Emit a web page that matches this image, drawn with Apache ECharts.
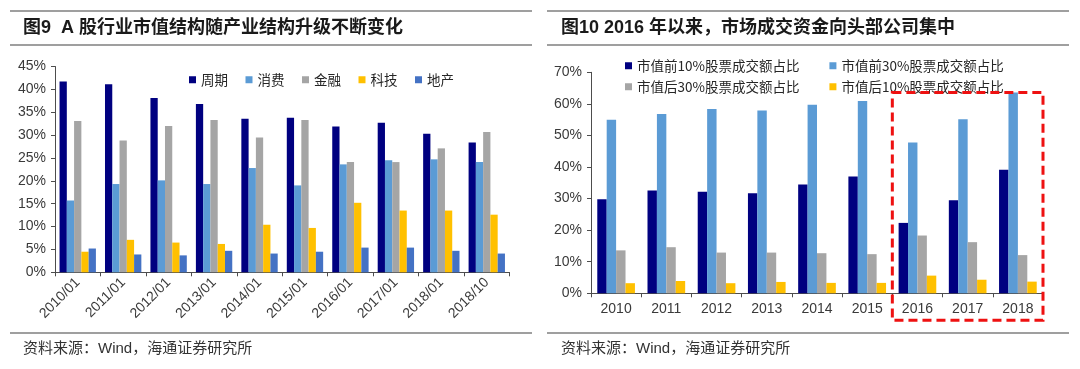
<!DOCTYPE html>
<html>
<head>
<meta charset="utf-8">
<script src="https://cdn.jsdelivr.net/npm/echarts@6/dist/echarts.min.js"></script>
<style>
html,body{margin:0;padding:0;background:#fff;}
#c{width:1080px;height:369px;}
</style>
</head>
<body>
<div id="c"></div>
<script>
// ---- Left chart data (图9) ----
const leftTitle = '图9  A 股行业市值结构随产业结构升级不断变化';
const leftCategories = ['2010/01','2011/01','2012/01','2013/01','2014/01','2015/01','2016/01','2017/01','2018/01','2018/10'];
const leftNames = ['周期','消费','金融','科技','地产'];
const cycle    = [41.7, 41.1, 38.1, 36.8, 33.6, 33.8, 31.9, 32.7, 30.3, 28.4];
const consumer = [15.7, 19.3, 20.1, 19.3, 22.8, 19.0, 23.6, 24.5, 24.7, 24.1];
const finance  = [33.1, 28.8, 32.0, 33.3, 29.5, 33.3, 24.1, 24.1, 27.1, 30.7];
const tech     = [4.5, 7.1, 6.5, 6.2, 10.4, 9.7, 15.2, 13.5, 13.5, 12.6];
const realty   = [5.2, 3.9, 3.7, 4.7, 4.1, 4.5, 5.4, 5.4, 4.7, 4.1];
const leftYMax = 45, leftYStep = 5;

// ---- Right chart data (图10) ----
const rightTitle = '图10 2016 年以来，市场成交资金向头部公司集中';
const rightCategories = ['2010','2011','2012','2013','2014','2015','2016','2017','2018'];
const rightNames = ['市值前10%股票成交额占比','市值前30%股票成交额占比','市值后30%股票成交额占比','市值后10%股票成交额占比'];
const top10    = [29.8, 32.6, 32.2, 31.7, 34.5, 37.0, 22.3, 29.5, 39.1];
const top30    = [55.0, 56.8, 58.4, 57.9, 59.7, 60.9, 47.8, 55.1, 63.6];
const bottom30 = [13.6, 14.6, 12.9, 12.9, 12.7, 12.4, 18.3, 16.2, 12.1];
const bottom10 = [3.2, 3.9, 3.2, 3.6, 3.3, 3.3, 5.6, 4.3, 3.7];
const rightYMax = 70, rightYStep = 10;
const highlightFrom = '2016', highlightTo = '2018';

const sourceText = '资料来源：Wind，海通证券研究所';

const C_NAVY = '#000080', C_LBLUE = '#5b9bd5', C_GRAY = '#a5a5a5', C_GOLD = '#ffc000', C_BLUE = '#4472c4';
const FONT = '"Liberation Sans", "Noto Sans CJK SC", sans-serif';
const AXIS_COLOR = '#4d4d4d';
const LABEL_COLOR = '#3a3a3a';

const chart = echarts.init(document.getElementById('c'), null, {renderer: 'canvas'});

function yAxis(gridIndex, max, step) {
  return {
    type: 'value', gridIndex, min: 0, max, interval: step,
    axisLine: {show: true, lineStyle: {color: AXIS_COLOR, width: 1}},
    axisTick: {show: true, length: 4, lineStyle: {color: AXIS_COLOR}},
    splitLine: {show: false},
    axisLabel: {formatter: '{value}%', color: LABEL_COLOR, fontFamily: FONT, fontSize: 14, margin: 9}
  };
}
function xAxis(gridIndex, data, rotate, fs, margin) {
  return {
    type: 'category', gridIndex, data,
    axisLine: {show: true, lineStyle: {color: AXIS_COLOR, width: 1}},
    axisTick: {show: true, length: 4, inside: false, lineStyle: {color: AXIS_COLOR}},
    axisLabel: {rotate, color: LABEL_COLOR, fontFamily: FONT, fontSize: fs, margin, interval: 0}
  };
}
function bar(name, data, color, idx, gap) {
  return {
    name, type: 'bar', data, xAxisIndex: idx, yAxisIndex: idx,
    barGap: '0%', barCategoryGap: gap,
    itemStyle: {color}, silent: true, animation: false
  };
}

const legendText = {color: '#262626', fontFamily: '"Noto Sans CJK SC", sans-serif', fontSize: 13.5};

const option = {
  animation: false,
  backgroundColor: '#ffffff',
  grid: [
    {left: 55, right: 570.5, top: 66.5, bottom: 96.7},
    {left: 591, right: 37, top: 72.3, bottom: 75.7}
  ],
  xAxis: [
    xAxis(0, leftCategories, 45, 14, 8),
    xAxis(1, rightCategories, 0, 14, 9)
  ],
  yAxis: [
    yAxis(0, leftYMax, leftYStep),
    yAxis(1, rightYMax, rightYStep)
  ],
  legend: [
    {data: leftNames, left: 184, top: 68, itemWidth: 7, itemHeight: 7, itemGap: 17.5, icon: 'rect', textStyle: legendText, selectedMode: false},
    {data: rightNames.slice(0, 2), left: 620, top: 54, itemWidth: 7, itemHeight: 7, itemGap: 30, icon: 'rect', textStyle: legendText, selectedMode: false},
    {data: rightNames.slice(2, 4), left: 620, top: 75, itemWidth: 7, itemHeight: 7, itemGap: 30, icon: 'rect', textStyle: legendText, selectedMode: false}
  ],
  series: [
    bar(leftNames[0], cycle, C_NAVY, 0, '20%'),
    bar(leftNames[1], consumer, C_LBLUE, 0, '20%'),
    bar(leftNames[2], finance, C_GRAY, 0, '20%'),
    bar(leftNames[3], tech, C_GOLD, 0, '20%'),
    bar(leftNames[4], realty, C_BLUE, 0, '20%'),
    bar(rightNames[0], top10, C_NAVY, 1, '25%'),
    bar(rightNames[1], top30, C_LBLUE, 1, '25%'),
    bar(rightNames[2], bottom30, C_GRAY, 1, '25%'),
    bar(rightNames[3], bottom10, C_GOLD, 1, '25%')
  ],
  graphic: [
    {type: 'line', shape: {x1: 10, y1: 11, x2: 532, y2: 11}, style: {stroke: '#7f7f7f', lineWidth: 1.5}},
    {type: 'line', shape: {x1: 10, y1: 45, x2: 532, y2: 45}, style: {stroke: '#7f7f7f', lineWidth: 1.5}},
    {type: 'line', shape: {x1: 10, y1: 333, x2: 532, y2: 333}, style: {stroke: '#7f7f7f', lineWidth: 1.5}},
    {type: 'line', shape: {x1: 547, y1: 11, x2: 1069, y2: 11}, style: {stroke: '#7f7f7f', lineWidth: 1.5}},
    {type: 'line', shape: {x1: 547, y1: 45, x2: 1069, y2: 45}, style: {stroke: '#7f7f7f', lineWidth: 1.5}},
    {type: 'line', shape: {x1: 547, y1: 333, x2: 1069, y2: 333}, style: {stroke: '#7f7f7f', lineWidth: 1.5}},
    {type: 'text', x: 23, y: 28, style: {text: leftTitle, fill: '#1a1a1a', font: 'bold 18px ' + FONT, textVerticalAlign: 'middle'}},
    {type: 'text', x: 561, y: 28, style: {text: rightTitle, fill: '#1a1a1a', font: 'bold 18px ' + FONT, textVerticalAlign: 'middle'}},
    {type: 'text', x: 23, y: 349, style: {text: sourceText, fill: '#333333', font: '15px ' + FONT, textVerticalAlign: 'middle'}},
    {type: 'text', x: 561, y: 349, style: {text: sourceText, fill: '#333333', font: '15px ' + FONT, textVerticalAlign: 'middle'}}
  ]
};
chart.setOption(option);

// Highlight box around the last three years, derived from the axes
const c1 = chart.convertToPixel({xAxisIndex: 1}, highlightFrom);
const c2 = chart.convertToPixel({xAxisIndex: 1}, rightCategories[rightCategories.indexOf(highlightFrom) + 1]);
const c3 = chart.convertToPixel({xAxisIndex: 1}, highlightTo);
const half = (c2 - c1) / 2;
const hiIdx = rightCategories.indexOf(highlightTo);
const topY = chart.convertToPixel({yAxisIndex: 1}, Math.max(top10[hiIdx], top30[hiIdx], bottom30[hiIdx], bottom10[hiIdx]));
const baseY = chart.convertToPixel({yAxisIndex: 1}, 0);
chart.setOption({
  graphic: option.graphic.concat([{
    type: 'rect',
    shape: {x: c1 - half, y: topY, width: (c3 + half) - (c1 - half), height: baseY + 27 - topY},
    style: {fill: 'none', stroke: '#ee1111', lineWidth: 3, lineDash: [9, 5]},
    z: 100
  }])
});
</script>
</body>
</html>
